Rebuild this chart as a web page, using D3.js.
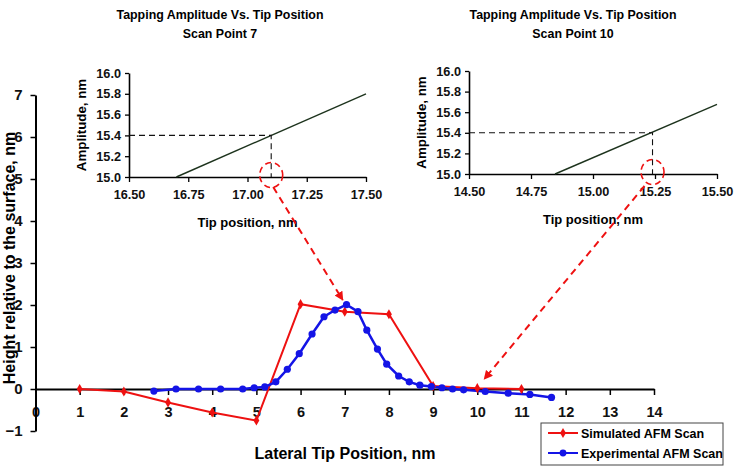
<!DOCTYPE html>
<html><head><meta charset="utf-8">
<script src="https://cdn.jsdelivr.net/npm/d3@7"></script>
<style>body{margin:0;background:#fff}svg{display:block;font-family:Arial,"Liberation Sans",sans-serif}</style>
</head><body><svg id="c" width="734" height="466"></svg>
<script>
// ---- data ----
const simX = [1,2,3,4,5,6,7,8,9,10,11];
const simY = [0,-0.06,-0.32,-0.56,-0.75,2.02,1.84,1.78,0.07,0.02,0.0];
const expX = [2.68,3.18,3.69,4.19,4.69,4.95,5.19,5.44,5.70,5.97,6.26,6.53,6.78,7.04,7.30,7.50,7.74,7.95,8.22,8.46,8.70,8.96,9.20,9.44,9.69,10.18,10.70,11.19,11.68];
const expY = [-0.05,0.0,0.0,0.0,0.0,0.03,0.05,0.17,0.47,0.84,1.31,1.72,1.88,2.01,1.84,1.40,0.95,0.59,0.31,0.17,0.09,0.06,0.03,0.0,-0.02,-0.06,-0.10,-0.13,-0.20];
const mainXTicks = [0,1,2,3,4,5,6,7,8,9,10,11,12,13,14];
const mainYTicks = [-1,0,1,2,3,4,5,6,7];
const seriesNames = ["Simulated AFM Scan","Experimental AFM Scan"];
// insets
const inset1Title = ["Tapping Amplitude Vs. Tip Position","Scan Point 7"];
const inset1LineX = [16.70,17.50];
const inset1LineY = [15.0,15.80];
const inset1XTicks = [16.50,16.75,17.00,17.25,17.50];
const inset1Mark = [17.10,15.4];
const inset2Title = ["Tapping Amplitude Vs. Tip Position","Scan Point 10"];
const inset2LineX = [14.847,15.50];
const inset2LineY = [15.0,15.677];
const inset2XTicks = [14.50,14.75,15.00,15.25,15.50];
const inset2Mark = [15.24,15.4];
const insetYTicks = [15.0,15.2,15.4,15.6,15.8,16.0];

const svg = d3.select("#c");
const RED = "#ee1111", BLUE = "#1414e6";

// ---- main chart ----
const x = d3.scaleLinear().domain([0,14]).range([35.5,654]);
const y = d3.scaleLinear().domain([-1,7]).range([431,95]);

const gx = svg.append("g").attr("transform",`translate(0,${y(0)})`)
  .call(d3.axisBottom(x).tickValues(mainXTicks).tickFormat(d3.format("d")).tickSize(6).tickPadding(12).tickSizeOuter(0));
gx.select(".domain").attr("stroke","#000").attr("stroke-width",2);
gx.selectAll(".tick line").attr("stroke","#000").attr("stroke-width",1.5);
gx.selectAll("text").attr("font-size",14.5).attr("font-weight","bold").attr("fill","#111");

const gy = svg.append("g").attr("transform",`translate(${x(0)},0)`)
  .call(d3.axisLeft(y).tickValues(mainYTicks).tickFormat(d3.format("d")).tickSize(5).tickPadding(8).tickSizeOuter(0));
gy.select(".domain").attr("stroke","#000").attr("stroke-width",2);
gy.selectAll(".tick line").attr("stroke","#000").attr("stroke-width",1.5);
gy.selectAll("text").attr("font-size",15).attr("font-weight","bold").attr("fill","#111");

svg.append("text").attr("transform",`translate(15,258) rotate(-90)`).attr("text-anchor","middle")
  .attr("font-size",16).attr("font-weight","bold").text("Height relative to the surface, nm");
svg.append("text").attr("x",345).attr("y",459).attr("text-anchor","middle")
  .attr("font-size",16).attr("font-weight","bold").text("Lateral Tip Position, nm");

const line = d3.line().x(d=>x(d[0])).y(d=>y(d[1]));
const simPts = simX.map((v,i)=>[v,simY[i]]);
const expPts = expX.map((v,i)=>[v,expY[i]]);
svg.append("path").attr("d",line(simPts)).attr("fill","none").attr("stroke",RED).attr("stroke-width",2);
svg.append("path").attr("d",line(expPts)).attr("fill","none").attr("stroke",BLUE).attr("stroke-width",2.5);
const diamond = d3.symbol().type(d3.symbolDiamond).size(30);
svg.selectAll(".sm").data(simPts).join("path").attr("d",diamond)
  .attr("transform",d=>`translate(${x(d[0])},${y(d[1])})`).attr("fill",RED);
svg.selectAll(".em").data(expPts).join("circle").attr("cx",d=>x(d[0])).attr("cy",d=>y(d[1])).attr("r",3.6).attr("fill",BLUE);

// legend
const lg = svg.append("g");
lg.append("rect").attr("x",541).attr("y",423).attr("width",182).attr("height",42).attr("fill","#fff").attr("stroke","#444").attr("stroke-width",1);
[[RED,0],[BLUE,1]].forEach(([c,i])=>{
  const yy = 433 + i*20;
  lg.append("line").attr("x1",548).attr("x2",578).attr("y1",yy).attr("y2",yy).attr("stroke",c).attr("stroke-width",2);
  if(i===0) lg.append("path").attr("d",diamond).attr("transform",`translate(563,${yy})`).attr("fill",c);
  else lg.append("circle").attr("cx",563).attr("cy",yy).attr("r",3.4).attr("fill",c);
  lg.append("text").attr("x",581).attr("y",yy+4.5).attr("font-size",12.5).attr("font-weight","bold").text(seriesNames[i]);
});

// ---- insets ----
function inset(o){
  const ix = d3.scaleLinear().domain(o.xd).range([o.x0,o.x1]);
  const iy = d3.scaleLinear().domain([15,16]).range([o.y1,o.y0]);
  const g = svg.append("g");
  const ax = g.append("g").attr("transform",`translate(0,${o.y1})`)
    .call(d3.axisBottom(ix).tickValues(o.xt).tickFormat(d3.format(".2f")).tickSize(5).tickPadding(8).tickSizeOuter(0));
  const ay = g.append("g").attr("transform",`translate(${o.x0},0)`)
    .call(d3.axisLeft(iy).tickValues(insetYTicks).tickFormat(d3.format(".1f")).tickSize(4).tickPadding(4).tickSizeOuter(0));
  [ax,ay].forEach(a=>{
    a.select(".domain").attr("stroke","#000").attr("stroke-width",1.6);
    a.selectAll(".tick line").attr("stroke","#000").attr("stroke-width",1.3);
    a.selectAll("text").attr("font-size",12.7).attr("font-weight","bold").attr("fill","#111");
  });
  g.append("path").attr("d",d3.line()([[ix(o.lx[0]),iy(o.ly[0])],[ix(o.lx[1]),iy(o.ly[1])]]))
    .attr("stroke","#1d331d").attr("stroke-width",1.4).attr("fill","none");
  g.append("path").attr("d",d3.line()([[ix(o.xd[0]),iy(o.m[1])],[ix(o.m[0]),iy(o.m[1])],[ix(o.m[0]),iy(15)]]))
    .attr("stroke","#111").attr("stroke-width",1.1).attr("stroke-dasharray","6,4").attr("fill","none");
  g.append("text").attr("x",o.tx).attr("y",19).attr("text-anchor","middle").attr("font-size",12.4).attr("font-weight","bold").text(o.title[0]);
  g.append("text").attr("x",o.tx).attr("y",38).attr("text-anchor","middle").attr("font-size",12.4).attr("font-weight","bold").text(o.title[1]);
  g.append("text").attr("x",(o.x0+o.x1)/2).attr("y",o.y1+50).attr("text-anchor","middle").attr("font-size",13).attr("font-weight","bold").text("Tip position, nm");
  g.append("text").attr("transform",`translate(${o.x0-43},${(o.y0+o.y1)/2}) rotate(-90)`).attr("text-anchor","middle").attr("font-size",13.3).attr("font-weight","bold").text("Amplitude, nm");
  // dashed red circle
  g.append("ellipse").attr("cx",ix(o.m[0])).attr("cy",iy(15)-2).attr("rx",11.5).attr("ry",12.5)
    .attr("fill","none").attr("stroke",RED).attr("stroke-width",1.6).attr("stroke-dasharray","6,4");
  return {ix,iy};
}
const s1 = inset({xd:[16.5,17.5],x0:129,x1:366,y0:73,y1:177,xt:inset1XTicks,lx:inset1LineX,ly:inset1LineY,m:inset1Mark,title:inset1Title,tx:220});
const s2 = inset({xd:[14.5,15.5],x0:469,x1:717,y0:71,y1:174,xt:inset2XTicks,lx:inset2LineX,ly:inset2LineY,m:inset2Mark,title:inset2Title,tx:573});

// arrows
svg.append("defs").append("marker").attr("id","ah").attr("viewBox","0 0 10 10").attr("refX",9).attr("refY",5)
  .attr("markerWidth",9).attr("markerHeight",9).attr("orient","auto").attr("markerUnits","userSpaceOnUse")
  .append("path").attr("d","M0,0L10,5L0,10Z").attr("fill",RED);
function arrow(p0,p1){
  svg.append("line").attr("x1",p0[0]).attr("y1",p0[1]).attr("x2",p1[0]).attr("y2",p1[1])
    .attr("stroke",RED).attr("stroke-width",2).attr("stroke-dasharray","7,5").attr("marker-end","url(#ah)");
}
arrow([s1.ix(inset1Mark[0])+2,s1.iy(15)+10],[x(7)-2,y(2)-5]);
arrow([s2.ix(inset2Mark[0])-8,s2.iy(15)+12],[x(10)+7,y(0)-10]);
</script></body></html>
